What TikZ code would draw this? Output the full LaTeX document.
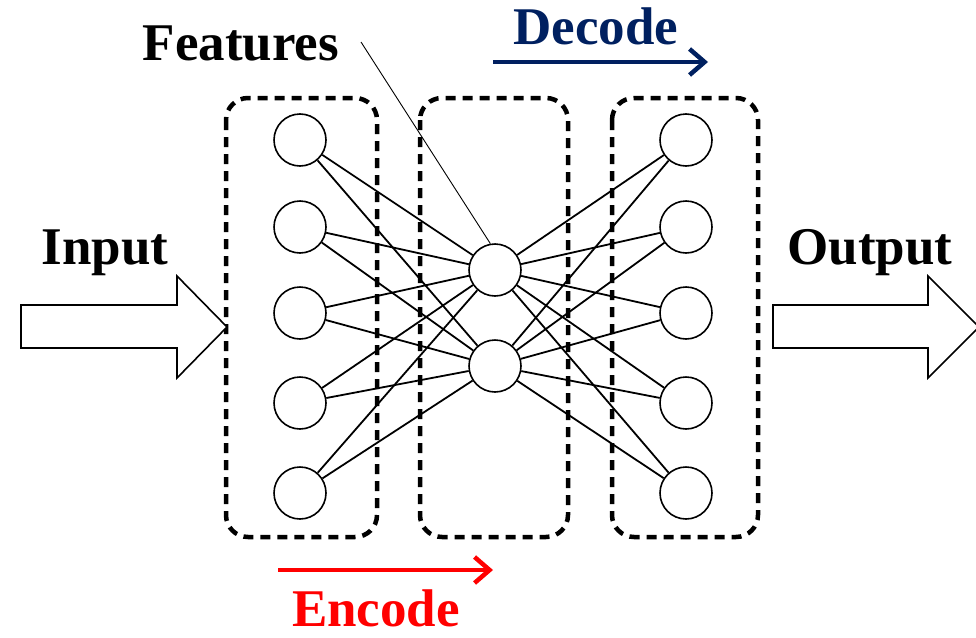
\documentclass[tikz,border=0pt]{standalone}
\usepackage{fontspec}
\setmainfont{Liberation Serif}
\usetikzlibrary{arrows.meta}
\definecolor{decodenavy}{HTML}{002060}
\definecolor{encodered}{HTML}{FF0000}

\begin{document}
\begin{tikzpicture}[x=1pt, y=-1pt,
  neuron/.style={circle, draw=black, line width=1.6pt, minimum size=52pt, inner sep=0pt},
  layerbox/.style={draw=black, line width=4.5pt, dash pattern=on 10pt off 7pt, rounded corners=22pt},
  link/.style={black, line width=1.8pt},
  blockarrow/.style={draw=black, fill=white, line width=1.6pt},
  biglabel/.style={font=\fontsize{53}{60}\selectfont\bfseries, inner sep=0pt}]

  \useasboundingbox (0,0) rectangle (976,637);

  % Dashed layer boxes
  \draw[layerbox] (226,98) rectangle (377,537);
  \draw[layerbox] (420,98) rectangle (568,537);
  \draw[layerbox] (612,98) rectangle (758,537);

  % Input and output neurons
  \foreach \i/\y in {1/140, 2/227, 3/313, 4/403, 5/493} {
    \node[neuron] (l\i) at (300,\y) {};
    \node[neuron] (r\i) at (686,\y) {};
  }

  % Feature neurons
  \node[neuron] (m1) at (495,270) {};
  \node[neuron] (m2) at (495,366) {};

  % Full connections
  \foreach \i in {1,...,5} {
    \foreach \j in {1,2} {
      \draw[link] (l\i) -- (m\j);
      \draw[link] (m\j) -- (r\i);
    }
  }

  % Block arrows (input / output)
  \draw[blockarrow] (21,305) -- (177,305) -- (177,276) -- (227,327)
    -- (177,378) -- (177,348) -- (21,348) -- cycle;
  \draw[blockarrow] (773,305) -- (928,305) -- (928,276) -- (979,327)
    -- (928,378) -- (928,348) -- (773,348) -- cycle;

  % Labels
  \node[biglabel, anchor=base] (input) at (105,264) {Input};
  \node[biglabel, anchor=base] (output) at (870,264) {Output};
  \node[biglabel, anchor=base] (features) at (241,60) {Features};
  \node[biglabel, anchor=base, text=decodenavy] (decode) at (596,44) {Decode};
  \node[biglabel, anchor=base, text=encodered] (encode) at (376,626) {Encode};

  % Pointer to the feature layer
  \coordinate (feat-tip) at (361,42);
  \draw[black, line width=0.9pt] (feat-tip) -- (m1.100);

  % Encode / decode direction arrows
  \coordinate (dec-a) at (493,62);
  \coordinate (dec-b) at (708,62);
  \coordinate (enc-a) at (278,570);
  \coordinate (enc-b) at (493,570);
  \draw[decodenavy, line width=4.5pt, -{Straight Barb[length=15pt, width=26pt]}] (dec-a) -- (dec-b);
  \draw[encodered, line width=4.5pt, -{Straight Barb[length=15pt, width=26pt]}] (enc-a) -- (enc-b);

\end{tikzpicture}
\end{document}
